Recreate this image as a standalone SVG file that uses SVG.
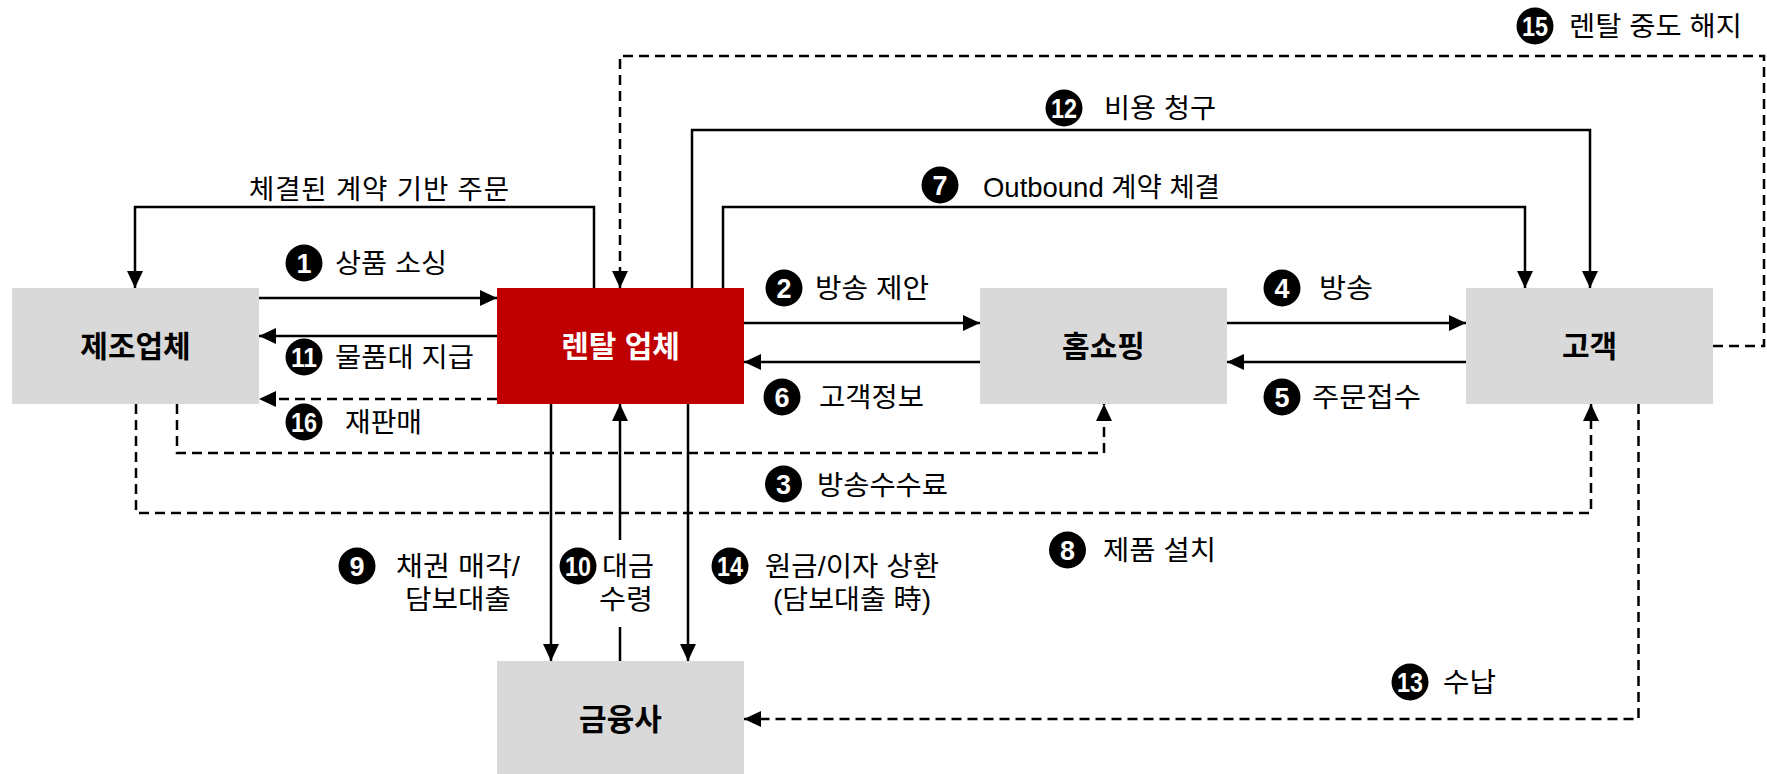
<svg xmlns="http://www.w3.org/2000/svg" width="1767" height="774" viewBox="0 0 1767 774">
<style>
.node{fill:#d9d9d9}
.red{fill:#c00000}
.nl{font-family:"Liberation Sans","Noto Sans CJK KR",sans-serif;font-weight:bold;font-size:30px;text-anchor:middle;fill:#000}
.wl{fill:#fff}
.lbl{font-family:"Liberation Sans","Noto Sans CJK KR",sans-serif;font-size:27.5px;fill:#000}
.mid{text-anchor:middle}
.bn{font-family:"Liberation Sans","Noto Sans CJK KR",sans-serif;font-weight:bold;font-size:27px;fill:#fff;text-anchor:middle}
.ln{fill:none;stroke:#000;stroke-width:2.5}
.ds{stroke-dasharray:10 6}
</style>
<defs>
<marker id="ah" markerUnits="userSpaceOnUse" markerWidth="17" markerHeight="16" refX="17" refY="8" orient="auto">
<path d="M0,0 L17,8 L0,16 z" fill="#000"/>
</marker>
</defs>
<rect width="1767" height="774" fill="#fff"/>

<g id="connectors">
<path class="ln" d="M594,288 V207 H135 V288" marker-end="url(#ah)"/>
<path class="ln" d="M259,298 H497" marker-end="url(#ah)"/>
<path class="ln" d="M497,336 H259" marker-end="url(#ah)"/>
<path class="ln ds" d="M497,399 H259" marker-end="url(#ah)"/>
<path class="ln ds" d="M1713,346 H1764 V56 H620 V288" marker-end="url(#ah)"/>
<path class="ln" d="M692,288 V130 H1590 V288" marker-end="url(#ah)"/>
<path class="ln" d="M723,288 V207 H1525 V288" marker-end="url(#ah)"/>
<path class="ln" d="M744,323 H980" marker-end="url(#ah)"/>
<path class="ln" d="M980,362 H744" marker-end="url(#ah)"/>
<path class="ln" d="M1227,323 H1466" marker-end="url(#ah)"/>
<path class="ln" d="M1466,362 H1227" marker-end="url(#ah)"/>
<path class="ln ds" d="M177,404 V453 H1104 V404" marker-end="url(#ah)"/>
<path class="ln ds" d="M136,404 V513 H1591 V404" marker-end="url(#ah)"/>
<path class="ln ds" d="M1638.5,404 V719 H744" marker-end="url(#ah)"/>
<path class="ln" d="M551,404 V661" marker-end="url(#ah)"/>
<path class="ln" d="M620,661 V627"/>
<path class="ln" d="M620,540 V404" marker-end="url(#ah)"/>
<path class="ln" d="M688,404 V661" marker-end="url(#ah)"/>
</g>

<g id="node-manufacturer">
<rect class="node" x="12" y="288" width="247" height="116"/>
<text class="nl" x="135.5" y="357">제조업체</text>
</g>
<g id="node-rental">
<rect class="red" x="497" y="288" width="247" height="116"/>
<text class="nl wl" x="620.5" y="357">렌탈 업체</text>
</g>
<g id="node-homeshopping">
<rect class="node" x="980" y="288" width="247" height="116"/>
<text class="nl" x="1103.5" y="357">홈쇼핑</text>
</g>
<g id="node-customer">
<rect class="node" x="1466" y="288" width="247" height="116"/>
<text class="nl" x="1589.5" y="357">고객</text>
</g>
<g id="node-finance">
<rect class="node" x="497" y="661" width="247" height="113"/>
<text class="nl" x="620.5" y="730">금융사</text>
</g>

<g id="labels">
<text class="lbl" x="249" y="199" textLength="260">체결된 계약 기반 주문</text>

<circle cx="304" cy="263" r="18.5"/><text class="bn" x="304" y="273">1</text>
<text class="lbl" x="335" y="273" textLength="112" lengthAdjust="spacingAndGlyphs">상품 소싱</text>

<circle cx="304" cy="357" r="18.5"/><text class="bn" x="304" y="367" textLength="26" lengthAdjust="spacingAndGlyphs">11</text>
<text class="lbl" x="335" y="367" textLength="139" lengthAdjust="spacingAndGlyphs">물품대 지급</text>

<circle cx="304" cy="422" r="18.5"/><text class="bn" x="304" y="432" textLength="26" lengthAdjust="spacingAndGlyphs">16</text>
<text class="lbl" x="345" y="432" textLength="77" lengthAdjust="spacingAndGlyphs">재판매</text>

<circle cx="784" cy="288" r="18.5"/><text class="bn" x="784" y="298">2</text>
<text class="lbl" x="815" y="298" textLength="114" lengthAdjust="spacingAndGlyphs">방송 제안</text>

<circle cx="782" cy="397" r="18.5"/><text class="bn" x="782" y="407">6</text>
<text class="lbl" x="819" y="407" textLength="105" lengthAdjust="spacingAndGlyphs">고객정보</text>

<circle cx="940" cy="185" r="18.5"/><text class="bn" x="940" y="195">7</text>
<text class="lbl" x="983" y="197" textLength="237" lengthAdjust="spacingAndGlyphs">Outbound 계약 체결</text>

<circle cx="1064" cy="108" r="18.5"/><text class="bn" x="1064" y="118" textLength="26" lengthAdjust="spacingAndGlyphs">12</text>
<text class="lbl" x="1104" y="118" textLength="112" lengthAdjust="spacingAndGlyphs">비용 청구</text>

<circle cx="1535" cy="26" r="18.5"/><text class="bn" x="1535" y="36" textLength="26" lengthAdjust="spacingAndGlyphs">15</text>
<text class="lbl" x="1569" y="36" textLength="173" lengthAdjust="spacingAndGlyphs">렌탈 중도 해지</text>

<circle cx="1282" cy="288" r="18.5"/><text class="bn" x="1282" y="298">4</text>
<text class="lbl" x="1319" y="298" textLength="54" lengthAdjust="spacingAndGlyphs">방송</text>

<circle cx="1282" cy="397" r="18.5"/><text class="bn" x="1282" y="407">5</text>
<text class="lbl" x="1312" y="407" textLength="109" lengthAdjust="spacingAndGlyphs">주문접수</text>

<circle cx="783.5" cy="484" r="18.5"/><text class="bn" x="783.5" y="494">3</text>
<text class="lbl" x="817" y="495" textLength="131" lengthAdjust="spacingAndGlyphs">방송수수료</text>

<circle cx="1067.5" cy="550" r="18.5"/><text class="bn" x="1067.5" y="560">8</text>
<text class="lbl" x="1103" y="560" textLength="113" lengthAdjust="spacingAndGlyphs">제품 설치</text>

<circle cx="1410" cy="682" r="18.5"/><text class="bn" x="1410" y="692" textLength="26" lengthAdjust="spacingAndGlyphs">13</text>
<text class="lbl" x="1443" y="692" textLength="53" lengthAdjust="spacingAndGlyphs">수납</text>

<circle cx="357" cy="566" r="18.5"/><text class="bn" x="357" y="576">9</text>
<text class="lbl mid" x="458" y="576" textLength="124" lengthAdjust="spacingAndGlyphs">채권 매각/</text>
<text class="lbl mid" x="458" y="609" textLength="106" lengthAdjust="spacingAndGlyphs">담보대출</text>

<circle cx="578" cy="566" r="18.5"/><text class="bn" x="578" y="576" textLength="26" lengthAdjust="spacingAndGlyphs">10</text>
<text class="lbl mid" x="628" y="576" textLength="52" lengthAdjust="spacingAndGlyphs">대금</text>
<text class="lbl mid" x="626" y="609" textLength="54" lengthAdjust="spacingAndGlyphs">수령</text>

<circle cx="730" cy="566" r="18.5"/><text class="bn" x="730" y="576" textLength="26" lengthAdjust="spacingAndGlyphs">14</text>
<text class="lbl mid" x="852" y="576" textLength="174" lengthAdjust="spacingAndGlyphs">원금/이자 상환</text>
<text class="lbl mid" x="852" y="609" textLength="158" lengthAdjust="spacingAndGlyphs">(담보대출 時)</text>
</g>
</svg>
